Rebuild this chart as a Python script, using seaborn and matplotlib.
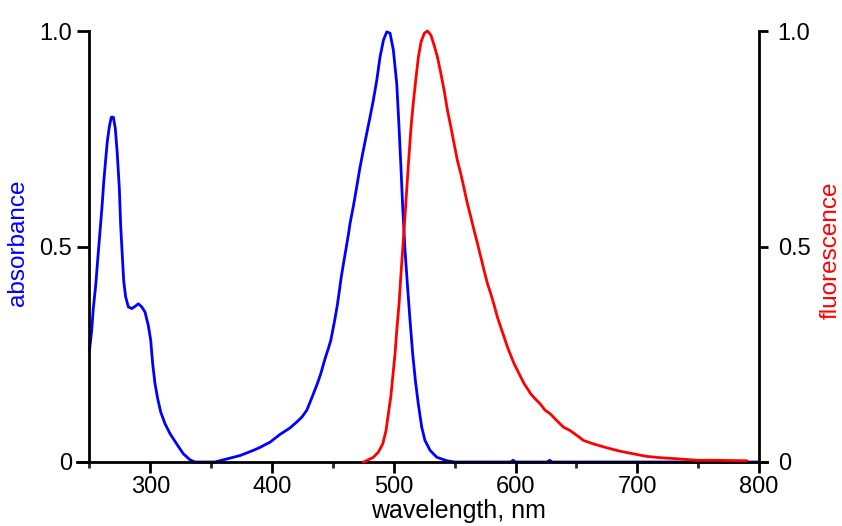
import matplotlib
matplotlib.use("Agg")
import matplotlib.pyplot as plt
import seaborn as sns
import pandas as pd

# ---- data ----
abs_nm = [250, 251.8, 253.1, 255.1, 256.7, 258.6, 260.3, 261.7, 263.3, 264.6, 266.3, 267.9, 269.6,
          271.2, 272.8, 274.5, 275.6, 277, 278.1, 279.7, 281.9, 284.7, 287.4, 290.1, 292.9, 295.6,
          298.3, 300.3, 301.9, 303.8, 306, 308.5, 312, 316.1, 321.6, 327.1, 332.6, 336.7, 353,
          362.7, 373.7, 384.6, 390.1, 398.3, 406.5, 414.7, 420.3, 424.4, 428.5, 431.2, 433.9, 437.2,
          440, 442.7, 444.3, 446.2, 448.2, 449.8, 451.7, 453.6, 455.2, 456.6, 458.5, 460.5, 462.7,
          464, 466.8, 469.5, 472.3, 475, 477.7, 480.5, 483.2, 486, 488.7, 491.5, 494.2, 496.9,
          499.6, 502.4, 504, 505.7, 507.3, 509.2, 511.1, 513.3, 515.5, 517.7, 520.1, 522.9, 525.6,
          529.8, 535.3, 543.5, 550, 596, 598, 600, 626, 628, 630, 800]
abs_val = [0.259, 0.305, 0.356, 0.41, 0.468, 0.534, 0.593, 0.65, 0.702, 0.743, 0.778, 0.80, 0.80,
           0.774, 0.716, 0.635, 0.549, 0.476, 0.42, 0.383, 0.36, 0.356, 0.361, 0.367, 0.36, 0.348,
           0.317, 0.282, 0.228, 0.182, 0.147, 0.116, 0.089, 0.066, 0.042, 0.019, 0.005, 0.0, 0.0,
           0.007, 0.015, 0.027, 0.034, 0.046, 0.064, 0.079, 0.093, 0.104, 0.12, 0.139, 0.158, 0.182,
           0.205, 0.232, 0.247, 0.263, 0.282, 0.305, 0.333, 0.364, 0.396, 0.425, 0.458, 0.491, 0.528,
           0.553, 0.594, 0.638, 0.685, 0.724, 0.762, 0.801, 0.84, 0.886, 0.94, 0.979, 0.998, 0.995,
           0.956, 0.878, 0.793, 0.693, 0.592, 0.491, 0.414, 0.329, 0.251, 0.189, 0.135, 0.081, 0.05,
           0.027, 0.011, 0.003, 0.0, 0.0, 0.004, 0.0, 0.0, 0.004, 0.0, 0.0]

fl_nm = [475, 477.6, 483.2, 487.3, 490.9, 493.6, 495.5, 497.5, 499.1, 501, 502.4, 504.3, 505.9,
         507.8, 509.5, 511.1, 512.8, 514.4, 516.1, 518, 520.2, 522.4, 525.1, 527.6, 530.4, 533.1,
         535.8, 538.6, 541.3, 544, 546.8, 549.5, 552.2, 555, 557.7, 560.4, 563.2, 565.9, 568.7,
         571.4, 574.1, 576.9, 579.6, 582.4, 585.1, 587.8, 590.6, 593.3, 596.1, 598.8, 601.5, 604.3,
         607, 609.8, 612.5, 616, 620.2, 624.3, 628.4, 633.9, 639.3, 644.8, 651.7, 655.8, 664, 675,
         685.9, 696.8, 707.8, 718.8, 735.2, 748.9, 762.6, 787.2, 790]
fl_val = [0.0, 0.003, 0.011, 0.023, 0.042, 0.073, 0.112, 0.151, 0.197, 0.251, 0.305, 0.367, 0.437,
          0.514, 0.584, 0.654, 0.724, 0.786, 0.836, 0.886, 0.94, 0.975, 0.995, 1.0, 0.991, 0.967,
          0.94, 0.902, 0.863, 0.817, 0.778, 0.739, 0.70, 0.669, 0.635, 0.60, 0.569, 0.538, 0.507,
          0.476, 0.445, 0.414, 0.391, 0.364, 0.336, 0.313, 0.29, 0.267, 0.247, 0.228, 0.213, 0.197,
          0.182, 0.17, 0.158, 0.147, 0.135, 0.12, 0.112, 0.096, 0.081, 0.073, 0.059, 0.05, 0.042, 0.033,
          0.025, 0.019, 0.013, 0.01, 0.007, 0.004, 0.004, 0.003, 0.003]

x_major = [300, 400, 500, 600, 700, 800]
x_major_labels = ["300", "400", "500", "600", "700", "800"]
x_minor = [250, 350, 450, 550, 650, 750]
y_ticks = [0, 0.5, 1.0]
y_tick_labels = ["0", "0.5", "1.0"]

# ---- style ----
sns.set_theme(style="white")
plt.rcParams["font.family"] = ["Liberation Sans", "DejaVu Sans"]

fig = plt.figure(figsize=(8.42, 5.26), dpi=100)
W, H = 842, 526
left_px, right_px, top_px, bot_px = 77, 767, 31, 462
ax = fig.add_axes([left_px / W, 1 - bot_px / H, (right_px - left_px) / W, (bot_px - top_px) / H])
ax2 = ax.twinx()

abs_df = pd.DataFrame({"nm": abs_nm, "absorbance": abs_val})
fl_df = pd.DataFrame({"nm": fl_nm, "fluorescence": fl_val})

sns.lineplot(data=abs_df, x="nm", y="absorbance", ax=ax, color="#0000ff", lw=2.0,
             sort=False, estimator=None, clip_on=False)
sns.lineplot(data=fl_df, x="nm", y="fluorescence", ax=ax2, color="#ff0000", lw=2.0,
             sort=False, estimator=None, clip_on=False)

px_per_nm = (759 - 89.5) / 550.0
xmin = 250 - (89.5 - left_px) / px_per_nm
xmax = 800 + (right_px - 759) / px_per_nm
ax.set_xlim(xmin, xmax)
ax.set_ylim(0, 1)
ax2.set_ylim(0, 1)

# spines
for a in (ax, ax2):
    a.spines["top"].set_visible(False)
ax.spines["right"].set_visible(False)
ax.spines["left"].set_position(("data", 250))
ax.spines["left"].set_linewidth(2)
ax.spines["bottom"].set_linewidth(2)
ax2.spines["left"].set_visible(False)
ax2.spines["bottom"].set_visible(False)
ax2.spines["right"].set_position(("data", 800))
ax2.spines["right"].set_linewidth(2)
for a in (ax, ax2):
    for s in a.spines.values():
        s.set_color("black")

# ticks
ax.set_xticks(x_major)
ax.set_xticklabels(x_major_labels)
ax.set_xticks(x_minor, minor=True)
ax.tick_params(axis="x", which="major", direction="out", length=8, width=2, pad=2,
               labelsize=17, colors="black", bottom=True)
ax.tick_params(axis="x", which="minor", direction="out", length=4.5, width=2, bottom=True)
ax.set_yticks(y_ticks)
ax.set_yticklabels(y_tick_labels)
ax.tick_params(axis="y", direction="out", length=8.5, width=2, pad=4, labelsize=17,
               colors="black", left=True)
ax2.set_yticks(y_ticks)
ax2.set_yticklabels(y_tick_labels)
ax2.tick_params(axis="y", direction="out", length=6.5, width=2, pad=7, labelsize=17,
                colors="black", right=True)

# labels
ax.set_xlabel("wavelength, nm", fontsize=18, color="black", va="top")
ax.xaxis.set_label_coords((458 - left_px) / (right_px - left_px), -(499 - bot_px) / (bot_px - top_px))
ax.set_ylabel("absorbance", fontsize=17.5, color="#0000ff")
ax.yaxis.set_label_coords((18 - left_px) / (right_px - left_px), (bot_px - 243) / (bot_px - top_px))
ax.yaxis.label.set_va("center")
ax.yaxis.label.set_ha("center")
ax2.set_ylabel("fluorescence", fontsize=17.5, color="#ff0000")
ax2.yaxis.set_label_position("right")
ax2.yaxis.set_label_coords((831 - left_px) / (right_px - left_px), (bot_px - 250) / (bot_px - top_px))
ax2.yaxis.label.set_rotation(90)
ax2.yaxis.label.set_va("center")
ax2.yaxis.label.set_ha("center")

ax.grid(False)
ax2.grid(False)
fig.savefig("out.png", dpi=100, facecolor="white")
